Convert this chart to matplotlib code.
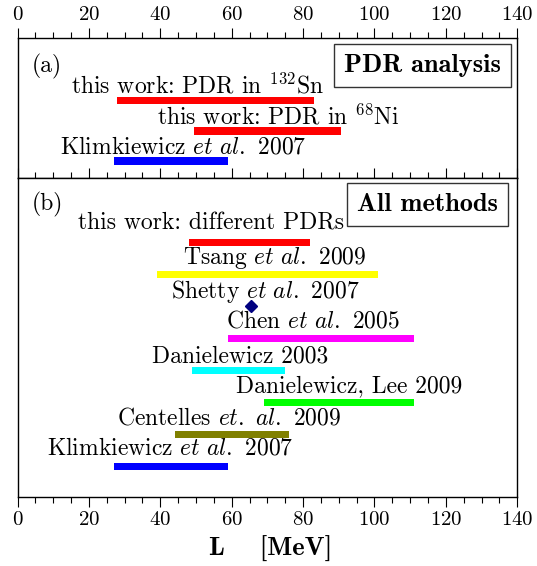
import matplotlib
matplotlib.use('Agg')
import matplotlib.pyplot as plt

plt.rcParams['font.family'] = 'cmr10'
plt.rcParams['mathtext.fontset'] = 'cm'
plt.rcParams['axes.formatter.use_mathtext'] = True

# panel (a): PDR analysis, L ranges in MeV
pdr_labels = [r'this work: PDR in $^{132}$Sn',
              r'this work: PDR in $^{68}$Ni',
              r'Klimkiewicz $\mathit{et\ al.}$ 2007']
pdr_lo = [28, 49.5, 27]
pdr_hi = [83, 90.5, 59]
pdr_colors = ['#ff0000', '#ff0000', '#0000ff']

# panel (b): all methods
all_labels = ['this work: different PDRs',
              r'Tsang $\mathit{et\ al.}$ 2009',
              r'Shetty $\mathit{et\ al.}$ 2007',
              r'Chen $\mathit{et\ al.}$ 2005',
              'Danielewicz 2003',
              'Danielewicz, Lee 2009',
              r'Centelles $\mathit{et.\ al.}$ 2009',
              r'Klimkiewicz $\mathit{et\ al.}$ 2007']
all_lo = [48, 39, None, 59, 49, 69, 44, 27]
all_hi = [82, 101, None, 111, 75, 111, 76, 59]
shetty_L = 65.4
all_colors = ['#ff0000', '#ffff00', '#000080', '#ff00ff', '#00ffff',
              '#00ff00', '#808000', '#0000ff']

# text placement (left edge in L units, baseline offset above bar in px)
pdr_text_x = [15.1, 39.1, 11.8]
pdr_text_dy = [7.4, 6.0, 7.0]
all_text_x = [17.0, 46.3, 43.1, 58.5, 37.7, 61.2, 27.8, 8.4]
all_text_dy = [12.3, 10.0, 8.3, 10.6, 7.4, 9.7, 9.4, 11.7]

fig = plt.figure(figsize=(5.37, 5.66), dpi=100)
ax_a = fig.add_axes([0.0326, 0.6850, 0.9307, 0.2473])
ax_b = fig.add_axes([0.0326, 0.1219, 0.9307, 0.5631])

label_fs = 17
px2pt = 0.72

for ax in (ax_a, ax_b):
    ax.set_xlim(0, 140)
    ax.set_xticks(range(0, 141, 20))
    ax.set_xticks(range(0, 141, 5), minor=True)
    ax.set_yticks([])
    for s in ax.spines.values():
        s.set_linewidth(1.0)
    ax.tick_params(axis='x', which='major', direction='out', length=7, width=0.8,
                   labelsize=15, pad=3)
    ax.tick_params(axis='x', which='minor', direction='out', length=4, width=0.8)

ax_a.tick_params(axis='x', which='both', top=True, bottom=False,
                 labeltop=True, labelbottom=False)
ax_b.tick_params(axis='x', which='both', top=True, bottom=True,
                 labeltop=False, labelbottom=True)

ax_a.set_ylim(2.574, -2.07)
ax_b.set_ylim(7.96, -2.0)

# panel (a)
for i in range(len(pdr_labels)):
    ax_a.barh(i, pdr_hi[i] - pdr_lo[i], left=pdr_lo[i], height=0.25,
              color=pdr_colors[i])
    ax_a.annotate(pdr_labels[i], xy=(pdr_text_x[i], i), xytext=(0, pdr_text_dy[i] * px2pt),
                  textcoords='offset points', ha='left', va='baseline', fontsize=label_fs)

# panel (b)
for i in range(len(all_labels)):
    if all_lo[i] is None:
        ax_b.plot([shetty_L], [i], marker='D', markersize=6, color=all_colors[i],
                  linestyle='none')
    else:
        ax_b.barh(i, all_hi[i] - all_lo[i], left=all_lo[i], height=0.234,
                  color=all_colors[i])
    ax_b.annotate(all_labels[i], xy=(all_text_x[i], i), xytext=(0, all_text_dy[i] * px2pt),
                  textcoords='offset points', ha='left', va='baseline', fontsize=label_fs)

ax_a.text(3.95, -1.12, '(a)', ha='left', va='center', fontsize=label_fs)
ax_b.text(3.95, -1.17, '(b)', ha='left', va='center', fontsize=label_fs)

box = dict(boxstyle='square,pad=0.38', facecolor='white', edgecolor='#333333', linewidth=1.0)
ax_a.text(113.4, -1.17, 'PDR analysis', family='cmb10', fontsize=19,
          ha='center', va='center', bbox=box)
ax_b.text(114.8, -1.17, 'All methods', family='cmb10', fontsize=19,
          ha='center', va='center', bbox=box)

fig.text(0.5045, 1 - 556 / 566, 'L    [MeV]', family='cmb10', fontsize=19,
         ha='center', va='baseline')

fig.savefig('out.png', dpi=100)
